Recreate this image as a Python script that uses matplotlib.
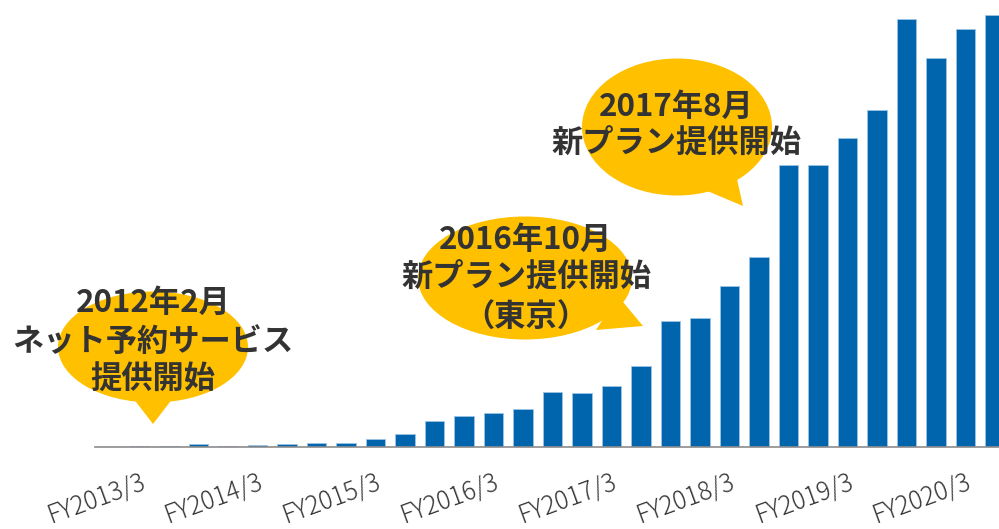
import matplotlib
matplotlib.use("Agg")
import matplotlib.pyplot as plt
from matplotlib.patches import Ellipse, Polygon

# quarterly values (arbitrary units)
values = [0, 1.0, 1.6, 3.3, 1.6, 2.3, 3.3, 4.6, 4.6, 8.3, 13.6,
          26, 31, 34.6, 38.3, 55.6, 54.6, 61, 81.6, 126.5, 129.5,
          161.3, 190.2, 282.7, 282.7, 309.3, 337, 428.1, 388.9, 418.6, 432.1]

fy_labels = ["FY2013/3", "FY2014/3", "FY2015/3", "FY2016/3",
             "FY2017/3", "FY2018/3", "FY2019/3", "FY2020/3"]
fy_positions = [1, 5, 9, 13, 17, 21, 25, 29]

callout_texts = [
    "2012年2月\nネット予約サービス\n提供開始",
    "2016年10月\n新プラン提供開始\n（東京）",
    "2017年8月\n新プラン提供開始",
]

W, H = 999, 529
fig = plt.figure(figsize=(W / 100, H / 100), dpi=100)

# main bar axes, right side runs off the figure edge like the original
left_px, base_px = 95.25, 81.7
ax = fig.add_axes([left_px / W, base_px / H, 1 - left_px / W, 1 - base_px / H])
ax.bar(range(len(values)), values, width=0.66, color="#0065ad",
       edgecolor="#9dc3e6", linewidth=0.6)
ax.set_xlim(-0.5, (W - left_px) / 29.5 - 0.5)
ax.set_ylim(0, H - base_px)

for s in ["top", "right", "left"]:
    ax.spines[s].set_visible(False)
ax.spines["bottom"].set_color("#8c8c8c")
ax.spines["bottom"].set_linewidth(1.2)
ax.set_yticks([])
ax.set_xticks(fy_positions)
ax.set_xticklabels(fy_labels, rotation=20, ha="right", va="top",
                   rotation_mode="anchor", color="#363636", fontsize=18,
                   family=["Noto Sans CJK JP", "DejaVu Sans"], fontweight="light")
ax.tick_params(axis="x", length=0, pad=15)

# overlay in pixel coordinates for the speech bubbles
ov = fig.add_axes([0, 0, 1, 1], zorder=5)
ov.set_xlim(0, W)
ov.set_ylim(H, 0)
ov.axis("off")
ov.patch.set_alpha(0)

bubbles = [
    ((153, 347), 190, 111, [(133, 398), (173, 398), (153, 424)]),
    ((525, 278), 214, 123, [(618, 296), (643, 326), (596, 330)]),
    ((677, 127), 190, 137, [(735, 170), (743, 206), (705, 190)]),
]
text_lines_y = [[303, 342, 380], [240, 278, 318], [107, 144]]
text_x = [153, 526, 676]

yellow = "#ffc000"
for (c, w, h, tail), txt, ys, tx in zip(bubbles, callout_texts, text_lines_y, text_x):
    ov.add_patch(Ellipse(c, w, h, facecolor=yellow, edgecolor="none"))
    ov.add_patch(Polygon(tail, closed=True, facecolor=yellow, edgecolor="none"))
    for line, y in zip(txt.split("\n"), ys):
        ov.text(tx, y, line, ha="center", va="center", fontsize=22.5,
                fontweight="bold", color="#333333",
                family=["Noto Sans CJK JP", "DejaVu Sans"])

fig.savefig("out.png", dpi=100)
